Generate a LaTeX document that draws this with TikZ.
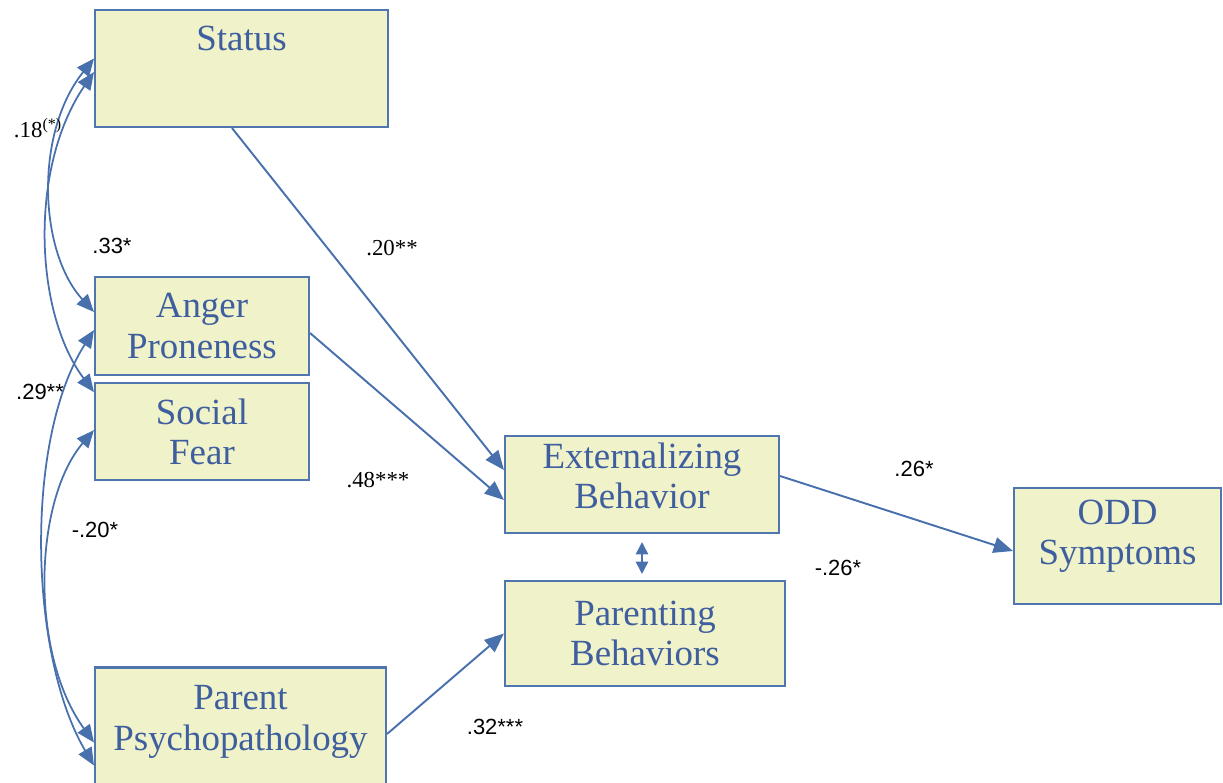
\documentclass[tikz,border=0pt]{standalone}
\usepackage{fontspec}
\setmainfont{Liberation Serif}
\newfontfamily\coeffont{Liberation Sans}
\usepackage{tikz}
\usetikzlibrary{arrows.meta,positioning}
\definecolor{boxfill}{RGB}{240,242,202}
\definecolor{boxline}{RGB}{80,118,176}
\definecolor{boxtext}{RGB}{62,94,158}
\definecolor{pathcol}{RGB}{72,112,172}

\tikzset{
  var/.style={draw=boxline,fill=boxfill,line width=1.2pt,inner sep=0pt,
    text=boxtext,align=center,font=\fontsize{21}{22.8}\selectfont},
  vartitle/.style={inner sep=0pt,text=boxtext,align=center,anchor=north,
    font=\fontsize{21}{22.8}\selectfont},
  coef/.style={inner sep=0pt,font=\coeffont\fontsize{12.5}{14}\selectfont},
  coefserif/.style={inner sep=0pt,font=\fontsize{13}{14}\selectfont},
  link/.style={draw=pathcol,line width=1.1pt,-{Triangle[length=11pt,width=9pt]}},
  corr/.style={draw=pathcol,line width=1pt,
    {Triangle[length=10pt,width=8.5pt]}-{Triangle[length=10pt,width=8.5pt]}},
}

\begin{document}
\begin{tikzpicture}[x=0.02cm,y=-0.02cm]
    \useasboundingbox (0,0) rectangle (1223,782);
    % predictors
    \node[var,minimum width=5.86cm,minimum height=2.34cm,
      label={[vartitle,yshift=-0.34cm]north:Status}] (status) at (241.5,68.5) {};
    \node[var,minimum width=4.28cm,minimum height=1.96cm] (anger) at (202,326) {Anger\\Proneness};
    \node[var,minimum width=4.28cm,minimum height=1.94cm] (social) [below=0.12cm of anger] {Social\\Fear};
    \node[var,minimum width=5.82cm,minimum height=2.7cm,
      label={[vartitle,yshift=-0.38cm]north:Parent\\Psychopathology}] (parent) at (240.5,735) {};
    % mediators and outcome
    \node[var,minimum width=5.48cm,minimum height=1.94cm,
      label={[vartitle,anchor=center,yshift=0.17cm]center:Externalizing\\Behavior}] (ext) at (642,484.5) {};
    \node[var,minimum width=5.6cm,minimum height=2.1cm] (parenting) at (645,633.5) {Parenting\\Behaviors};
    \node[var,minimum width=4.14cm,minimum height=2.32cm,
      label={[vartitle,anchor=center,yshift=0.2cm]center:ODD\\Symptoms}] (odd) at (1117.5,546) {};

    \path[every edge/.style=link]
    ([xshift=-0.19cm]status.south) edge ([yshift=0.29cm]ext.west)
    ([yshift=-0.14cm]anger.east)   edge ([yshift=-0.31cm]ext.west)
    ([yshift=0.17cm]ext.east)      edge ([yshift=-0.1cm]odd.west)
    ([yshift=0.02cm]parent.east)   edge (parenting.west);
    \draw[corr,{Triangle[length=7pt,width=7pt]}-{Triangle[length=7pt,width=7pt]},
      shorten <=0.16cm,shorten >=0.12cm]
    (ext.south) -- (ext.south |- parenting.north);

    % correlations
    \draw[corr] ([yshift=0.2cm]status.west) .. controls +(-60,75) and +(-55,-60) .. ([yshift=0.28cm]anger.west);
    \draw[corr] ([yshift=-0.07cm]status.west) .. controls +(-65,95) and +(-60,-80) .. ([yshift=0.79cm]social.west);
    \draw[corr] ([yshift=-0.08cm]anger.west) .. controls +(-70,110) and +(-65,-110) .. ([yshift=-0.61cm]parent.west);
    \draw[corr] ([yshift=0.03cm]social.west) .. controls +(-60,70) and +(-65,-90) .. ([yshift=-0.15cm]parent.west);

    % coefficients
    \node[coefserif] (c18) at (38,128)  {.18\textsuperscript{(*)}};
    \node[coef] (c33) at (112,246) {.33*};
    \node[coefserif] (c20) at (392,248) {.20**};
    \node[coef] (c29) at (40,392)  {.29**};
    \node[coefserif] (c48) at (378,480) {.48***};
    \node[coef] (cm20) at (95,530) {-.20*};
    \node[coef] (c26) at (914,469) {.26*};
    \node[coef] (cm26) at (838,568) {-.26*};
    \node[coef] (c32) at (495,727) {.32***};
\end{tikzpicture}
\end{document}
